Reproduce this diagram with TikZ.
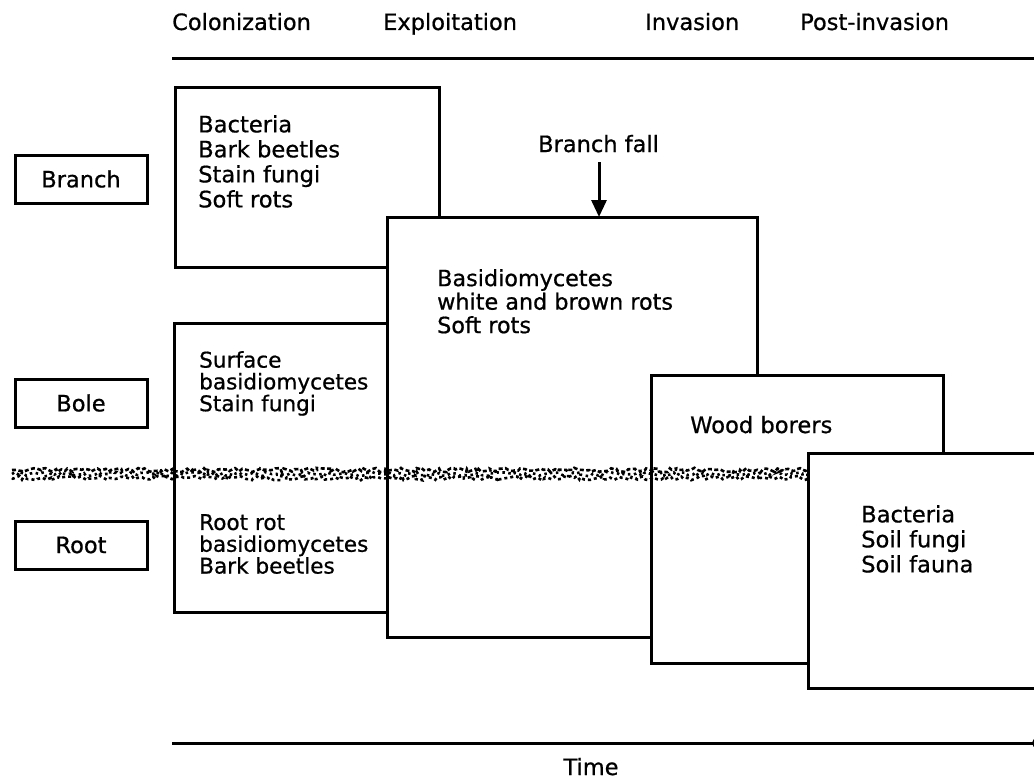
\documentclass[tikz,border=0pt]{standalone}
\usepackage{fontspec}
\setmainfont{DejaVu Sans}[FakeBold=0.7]
\usetikzlibrary{arrows.meta,decorations.pathmorphing}
\begin{document}
\begin{tikzpicture}[x=1pt,y=-1pt,
  box/.style={draw=black,fill=white,line width=3pt,inner sep=0pt,outer sep=0pt,anchor=north west},
  lbl/.style={draw=black,fill=white,line width=3pt,minimum width=132pt,minimum height=48pt,inner sep=0pt,font=\fontsize{22.5}{26}\selectfont},
  hdr/.style={anchor=base west,inner sep=0pt,font=\fontsize{22.5}{25}\selectfont},
  txt/.style={anchor=north west,inner sep=0pt,align=left},
  ground/.style={line width=2.6pt,dash pattern=on 4pt off 2.5pt,decorate,decoration={random steps,segment length=3pt,amplitude=2.2pt}}
]
\useasboundingbox (0,0) rectangle (1034,779);
% header
\node[hdr] (colon) at (172,30) {Colonization};
\node[hdr] (explo) at (383,30) {Exploitation};
\node[hdr] (invas) at (645,30) {Invasion};
\node[hdr] (post) at (800,30) {Post-invasion};
\coordinate (topL) at (172,58);
\coordinate (topR) at (1040,58);
\draw[line width=3pt] (topL) -- (topR);
% side labels
\node[lbl] (branch) at (81,179) {Branch};
\node[lbl] (bole) at (81,403) {Bole};
\node[lbl] (root) at (81,545) {Root};
% boxes
\node[box,minimum width=264pt,minimum height=180pt] (A) at (175,87) {};
\node[txt,font=\fontsize{22.6}{25}\selectfont] (Atxt) at (198,115) {Bacteria\\Bark beetles\\Stain fungi\\Soft rots};
\node[box,minimum width=214pt,minimum height=289pt] (B) at (174,323) {};
\node[txt,font=\fontsize{21.6}{21.8}\selectfont] (Btxt1) at (199,351) {Surface\\basidiomycetes\\Stain fungi};
\node[txt,font=\fontsize{21.6}{21.8}\selectfont] (Btxt2) at (199,514) {Root rot\\basidiomycetes\\Bark beetles};
\node[box,minimum width=370pt,minimum height=420pt] (C) at (387,217) {};
\node[txt,font=\fontsize{22.3}{23.5}\selectfont] (Ctxt) at (437,269) {Basidiomycetes\\white and brown rots\\Soft rots};
\node[box,minimum width=292pt,minimum height=288pt] (D) at (651,375) {};
\node[anchor=base west,inner sep=0pt,font=\fontsize{22.6}{25}\selectfont] (Dtxt) at (690,433) {Wood borers};
% ground line
\pgfmathsetseed{11}
\coordinate (g1) at (12,470);
\coordinate (g2) at (815,470);
\coordinate (g3) at (12,474);
\coordinate (g4) at (815,474);
\coordinate (g5) at (12,478);
\coordinate (g6) at (815,478);
\draw[ground] (g1) -- (g2);
\draw[ground,dash pattern=on 2.5pt off 3.5pt] (g3) -- (g4);
\draw[ground,dash pattern=on 3pt off 3pt] (g5) -- (g6);
% post-invasion box
\node[box,minimum width=242pt,minimum height=235pt] (E) at (808,453) {};
\node[txt,font=\fontsize{22.6}{25}\selectfont] (Etxt) at (861,505) {Bacteria\\Soil fungi\\Soil fauna};
% branch fall
\node[hdr] (bf) at (538,152) {Branch fall};
\coordinate (bfs) at (599,162);
\draw[line width=3pt,-{Triangle[width=15pt,length=17pt]}] (bfs) -- (bfs |- C.north);
% time axis
\coordinate (tL) at (172,743);
\coordinate (tR) at (1050,743);
\draw[line width=3pt] (tL) -- (tR);
\fill (1037,743) circle (5pt);
\node[anchor=base,inner sep=0pt,font=\fontsize{22.5}{25}\selectfont] (time) at (591,775) {Time};
\end{tikzpicture}
\end{document}
